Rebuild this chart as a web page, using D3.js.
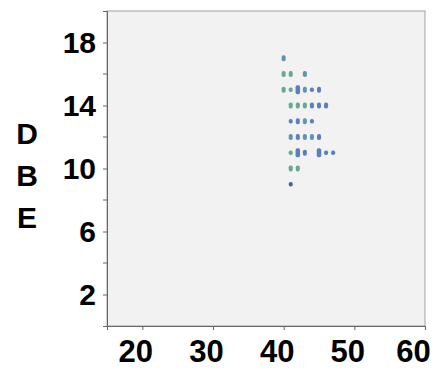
<!DOCTYPE html>
<html>
<head>
<meta charset="utf-8">
<script src="https://cdn.jsdelivr.net/npm/d3@7"></script>
<style>
  body { margin: 0; background: #fff; }
  text { font-family: "Liberation Sans", Arial, sans-serif; font-weight: bold; fill: #000; }
</style>
</head>
<body>
<div id="chart"></div>
<script>
// age (x) and DBE (y) per point, colour group and mark size (1 small, 2 normal, 3 tall)
const age   = [40, 40,41,43, 40,41,42,43,44,45, 41,42,43,44,45,46, 41,42,43,44, 41,42,43,44,45, 41,42,43,45,46,47, 41,42, 41];
const dbe   = [17, 16,16,16, 15,15,15,15,15,15, 14,14,14,14,14,14, 13,13,13,13, 12,12,12,12,12, 11,11,11,11,11,11, 10,10, 9];
const group = [1,  0,0,1,    0,0,2,1,2,2,       0,0,0,2,2,2,       2,2,1,2,      1,2,1,1,2,     0,2,2,2,2,2,       0,0, 3];
const size  = [2,  2,2,2,    2,1,3,2,1,2,       2,2,2,2,2,2,       1,2,2,1,      2,2,2,2,2,     1,3,2,3,1,1,       2,2, 1];

const xTicks = [20, 30, 40, 50, 60];
const yTicks = [2, 6, 10, 14, 18];
const yMinor = [4, 8, 12, 16];
const yTitle = ['D', 'B', 'E'];
const groupColors = ['#5aa084', '#5289a6', '#4a72b4', '#3e4e8c'];

const W = 435, H = 369;
const margin = { top: 11, right: 10, bottom: 43, left: 107 };
const width = W - margin.left - margin.right;
const height = H - margin.top - margin.bottom;

const svg = d3.select('#chart').append('svg')
  .attr('width', W)
  .attr('height', H);

const x = d3.scaleLinear().domain([15, 60]).range([0, width]);
const y = d3.scaleLinear().domain([0, 20]).range([height, 0]);

const g = svg.append('g')
  .attr('transform', `translate(${margin.left},${margin.top})`);

// plot panel
g.append('rect')
  .attr('width', width)
  .attr('height', height)
  .attr('fill', '#f2f2f2')
  .attr('stroke', '#a0a0a0')
  .attr('stroke-width', 1);

// x axis
const xAxis = g.append('g')
  .attr('transform', `translate(0,${height})`)
  .call(d3.axisBottom(x).tickValues(xTicks).tickSize(4).tickPadding(10));
xAxis.select('.domain').attr('stroke', '#666');
xAxis.selectAll('.tick line').attr('stroke', '#666');
xAxis.selectAll('text')
  .attr('font-size', 31)
  .attr('font-family', null)
  .attr('fill', '#000')
  .attr('dx', d => d === 60 ? -12 : -7);

// y axis
const yAxis = g.append('g')
  .call(d3.axisLeft(y).tickValues(yTicks).tickSize(4).tickPadding(7));
yAxis.select('.domain').attr('stroke', '#666');
yAxis.selectAll('.tick line').attr('stroke', '#666');
yAxis.selectAll('text').attr('font-size', 30).attr('font-family', null).attr('fill', '#000');

g.selectAll('.minor')
  .data(yMinor)
  .enter().append('line')
  .attr('class', 'minor')
  .attr('x1', -4).attr('x2', 0)
  .attr('y1', d => y(d)).attr('y2', d => y(d))
  .attr('stroke', '#666');

// stacked axis title
svg.selectAll('.ytitle')
  .data(yTitle)
  .enter().append('text')
  .attr('class', 'ytitle')
  .attr('x', 27)
  .attr('y', (d, i) => 144 + i * 42)
  .attr('text-anchor', 'middle')
  .attr('font-size', 30)
  .text(d => d);

// points
const pts = age.map((a, i) => ({ age: a, dbe: dbe[i], group: group[i], size: size[i] }));
const mh = { 1: 4.5, 2: 6, 3: 9 };
const mw = { 1: 4, 2: 4, 3: 4.5 };

g.selectAll('.pt')
  .data(pts)
  .enter().append('rect')
  .attr('class', 'pt')
  .attr('x', d => x(d.age) - mw[d.size] / 2)
  .attr('y', d => y(d.dbe) - mh[d.size] / 2)
  .attr('width', d => mw[d.size])
  .attr('height', d => mh[d.size])
  .attr('rx', 1.8)
  .attr('fill', d => groupColors[d.group])
  .attr('opacity', 0.9);
</script>
</body>
</html>
